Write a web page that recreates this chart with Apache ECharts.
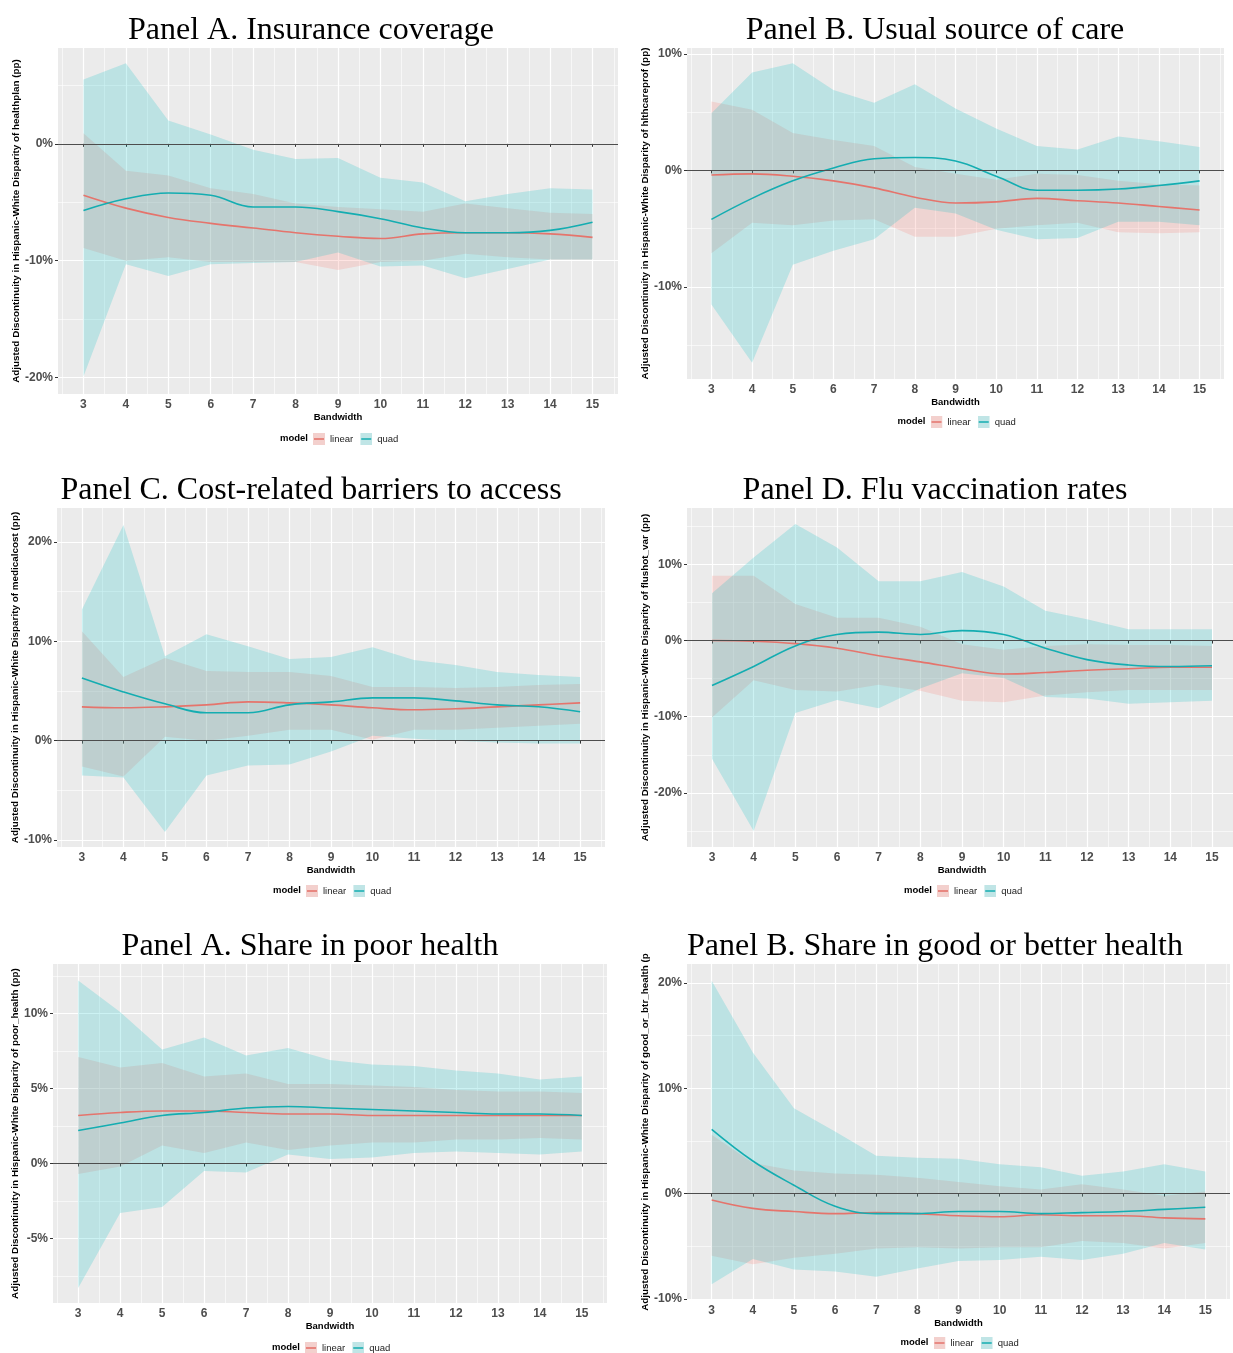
<!DOCTYPE html>
<html>
<head>
<meta charset="utf-8">
<script src="https://cdn.jsdelivr.net/npm/echarts@6.0.0/dist/echarts.min.js"></script>
<style>
html,body{margin:0;padding:0;background:#fff;}
#chart{width:1233px;height:1353px;}
</style>
</head>
<body>
<div id="chart"></div>
<script>
// bandwidths and axis breaks
var bandwidth = [3, 4, 5, 6, 7, 8, 9, 10, 11, 12, 13, 14, 15];
var xTicks = [3, 4, 5, 6, 7, 8, 9, 10, 11, 12, 13, 14, 15];
var xMinor = [2.5, 3.5, 4.5, 5.5, 6.5, 7.5, 8.5, 9.5, 10.5, 11.5, 12.5, 13.5, 14.5, 15.5];

// Panel A. Insurance coverage (healthplan)
var insLinHi = [0.9, -2.3, -2.7, -3.8, -4.3, -5.1, -5.4, -5.6, -5.8, -5.1, -5.5, -5.9, -6.0];
var insLinEst = [-4.4, -5.5, -6.3, -6.8, -7.2, -7.6, -7.9, -8.1, -7.7, -7.6, -7.6, -7.7, -8.0];
var insLinLo = [-8.9, -10.0, -9.7, -10.1, -10.1, -10.1, -10.8, -10.1, -10.0, -9.4, -9.7, -9.9, -9.9];
var insQuadHi = [5.5, 6.9, 2.0, 0.8, -0.5, -1.3, -1.2, -2.9, -3.3, -4.9, -4.3, -3.8, -3.9];
var insQuadEst = [-5.7, -4.7, -4.2, -4.4, -5.4, -5.4, -5.8, -6.4, -7.2, -7.6, -7.6, -7.4, -6.7];
var insQuadLo = [-19.9, -10.3, -11.3, -10.3, -10.2, -10.1, -9.3, -10.5, -10.4, -11.5, -10.7, -9.9, -9.9];
var insTicks = [-20, -10, 0];
var insMinor = [-15, -5, 5];

// Panel B. Usual source of care (hlthcareprof)
var usualLinHi = [5.9, 5.2, 3.2, 2.6, 2.1, 0.3, -0.3, -0.8, -0.3, -0.4, -0.9, -1.2, -1.3];
var usualLinEst = [-0.4, -0.3, -0.5, -0.9, -1.5, -2.3, -2.8, -2.7, -2.4, -2.6, -2.8, -3.1, -3.4];
var usualLinLo = [-7.1, -4.5, -4.7, -4.3, -4.2, -5.7, -5.7, -5.0, -4.7, -4.5, -5.3, -5.4, -5.3];
var usualQuadHi = [4.9, 8.4, 9.2, 6.9, 5.8, 7.4, 5.3, 3.6, 2.1, 1.8, 2.9, 2.5, 2.0];
var usualQuadEst = [-4.2, -2.4, -0.9, 0.2, 1.0, 1.1, 0.8, -0.5, -1.7, -1.7, -1.6, -1.3, -0.9];
var usualQuadLo = [-11.5, -16.5, -8.1, -6.9, -5.9, -3.2, -3.7, -5.1, -5.9, -5.8, -4.4, -4.4, -4.7];
var usualTicks = [-10, 0, 10];
var usualMinor = [-15, -5, 5];

// Panel C. Cost-related barriers to access (medicalcost)
var costLinHi = [11.0, 6.4, 8.3, 7.0, 6.9, 6.9, 6.5, 5.4, 5.4, 5.3, 5.4, 5.6, 5.7];
var costLinEst = [3.4, 3.3, 3.4, 3.6, 3.9, 3.8, 3.6, 3.3, 3.1, 3.2, 3.4, 3.6, 3.8];
var costLinLo = [-2.6, -3.6, 0.4, 0.0, 0.5, 1.1, 1.1, 0.1, 1.1, 1.1, 1.3, 1.5, 1.7];
var costQuadHi = [13.2, 21.7, 8.5, 10.7, 9.5, 8.2, 8.4, 9.4, 8.1, 7.6, 6.9, 6.6, 6.4];
var costQuadEst = [6.3, 4.9, 3.7, 2.8, 2.8, 3.6, 3.9, 4.3, 4.3, 4.0, 3.6, 3.4, 2.9];
var costQuadLo = [-3.5, -3.7, -9.2, -3.5, -2.5, -2.4, -1.1, 0.5, 0.2, 0.0, -0.2, -0.3, -0.3];
var costTicks = [-10, 0, 10, 20];
var costMinor = [-5, 5, 15];

// Panel D. Flu vaccination rates (flushot_var)
var fluLinHi = [8.5, 8.5, 4.8, 3.0, 3.0, 1.8, -0.5, -1.2, -0.7, -0.5, -0.6, -0.6, -0.7];
var fluLinEst = [0.0, -0.1, -0.4, -1.0, -2.0, -2.8, -3.7, -4.4, -4.2, -3.9, -3.7, -3.5, -3.5];
var fluLinLo = [-10.1, -5.2, -6.5, -6.7, -5.8, -6.6, -7.9, -8.1, -7.2, -6.8, -6.5, -6.5, -6.5];
var fluQuadHi = [6.2, 10.9, 15.3, 12.2, 7.8, 7.8, 9.0, 7.1, 3.9, 2.8, 1.5, 1.5, 1.5];
var fluQuadEst = [-5.9, -3.4, -0.7, 0.8, 1.1, 0.8, 1.3, 0.8, -1.0, -2.5, -3.2, -3.4, -3.3];
var fluQuadLo = [-15.5, -25.0, -9.5, -7.8, -8.9, -6.3, -4.3, -4.9, -7.4, -7.6, -8.3, -8.1, -7.9];
var fluTicks = [-20, -10, 0, 10];
var fluMinor = [-25, -15, -5, 5, 15];

// Panel A (2nd set). Share in poor health (poor_health)
var poorLinHi = [7.1, 6.4, 6.7, 5.8, 6.0, 5.3, 5.3, 5.2, 5.1, 4.9, 4.8, 4.8, 4.7];
var poorLinEst = [3.2, 3.4, 3.5, 3.5, 3.4, 3.3, 3.3, 3.2, 3.2, 3.2, 3.2, 3.2, 3.2];
var poorLinLo = [-0.7, -0.2, 1.2, 0.7, 1.4, 0.9, 1.2, 1.4, 1.4, 1.6, 1.6, 1.7, 1.6];
var poorQuadHi = [12.2, 10.1, 7.6, 8.4, 7.2, 7.7, 6.9, 6.6, 6.5, 6.2, 6.0, 5.6, 5.8];
var poorQuadEst = [2.2, 2.7, 3.2, 3.4, 3.7, 3.8, 3.7, 3.6, 3.5, 3.4, 3.3, 3.3, 3.2];
var poorQuadLo = [-8.3, -3.3, -2.9, -0.5, -0.6, 0.6, 0.3, 0.4, 0.7, 0.8, 0.7, 0.6, 0.8];
var poorTicks = [-5, 0, 5, 10];
var poorMinor = [-7.5, -2.5, 2.5, 7.5, 12.5];

// Panel B (2nd set). Share in good or better health (good_or_btr_health)
var goodLinHi = [5.6, 2.9, 2.2, 1.9, 1.8, 1.5, 1.1, 0.7, 0.4, 0.9, 0.4, -0.2, 0.2];
var goodLinEst = [-0.6, -1.4, -1.7, -1.9, -1.8, -1.9, -2.1, -2.2, -2.0, -2.1, -2.1, -2.3, -2.4];
var goodLinLo = [-5.9, -6.7, -6.1, -5.7, -5.2, -5.1, -5.2, -5.1, -5.1, -4.5, -4.7, -5.2, -4.7];
var goodQuadHi = [20.2, 13.4, 8.1, 5.9, 3.6, 3.4, 3.3, 2.8, 2.5, 1.7, 2.1, 2.8, 2.1];
var goodQuadEst = [6.1, 3.1, 0.8, -1.2, -1.9, -1.9, -1.7, -1.7, -1.9, -1.8, -1.7, -1.5, -1.3];
var goodQuadLo = [-8.6, -6.2, -7.2, -7.4, -7.9, -7.1, -6.4, -6.3, -6.0, -6.3, -5.7, -4.7, -5.3];
var goodTicks = [-10, 0, 10, 20];
var goodMinor = [-5, 5, 15];

var panels = [
    {title: 'Panel A. Insurance coverage', yName: 'Adjusted Discontinuity in Hispanic-White Disparity of healthplan (pp)',
        yMin: -21.4, yMax: 8.2, yTicks: insTicks, yMinor: insMinor,
        lin: [insLinLo, insLinEst, insLinHi], quad: [insQuadLo, insQuadEst, insQuadHi]},
    {title: 'Panel B. Usual source of care', yName: 'Adjusted Discontinuity in Hispanic-White Disparity of hlthcareprof (pp)',
        yMin: -17.9, yMax: 10.5, yTicks: usualTicks, yMinor: usualMinor,
        lin: [usualLinLo, usualLinEst, usualLinHi], quad: [usualQuadLo, usualQuadEst, usualQuadHi]},
    {title: 'Panel C. Cost-related barriers to access', yName: 'Adjusted Discontinuity in Hispanic-White Disparity of medicalcost (pp)',
        yMin: -10.7, yMax: 23.4, yTicks: costTicks, yMinor: costMinor,
        lin: [costLinLo, costLinEst, costLinHi], quad: [costQuadLo, costQuadEst, costQuadHi]},
    {title: 'Panel D. Flu vaccination rates', yName: 'Adjusted Discontinuity in Hispanic-White Disparity of flushot_var (pp)',
        yMin: -27.1, yMax: 17.4, yTicks: fluTicks, yMinor: fluMinor,
        lin: [fluLinLo, fluLinEst, fluLinHi], quad: [fluQuadLo, fluQuadEst, fluQuadHi]},
    {title: 'Panel A. Share in poor health', yName: 'Adjusted Discontinuity in Hispanic-White Disparity of poor_health (pp)',
        yMin: -9.3, yMax: 13.3, yTicks: poorTicks, yMinor: poorMinor,
        lin: [poorLinLo, poorLinEst, poorLinHi], quad: [poorQuadLo, poorQuadEst, poorQuadHi]},
    {title: 'Panel B. Share in good or better health', yName: 'Adjusted Discontinuity in Hispanic-White Disparity of good_or_btr_health (pp)',
        yMin: -10.1, yMax: 21.8, yTicks: goodTicks, yMinor: goodMinor,
        lin: [goodLinLo, goodLinEst, goodLinHi], quad: [goodQuadLo, goodQuadEst, goodQuadHi]}
];

// where each panel sits on the page
var layout = [
    {left: 58, top: 48, width: 560, height: 346, titleX: 311, titleY: 28, legendY: 439, nameGap: 35},
    {left: 687, top: 48, width: 537, height: 331, titleX: 935, titleY: 28, legendY: 422, nameGap: 30},
    {left: 57, top: 508, width: 548, height: 339, titleX: 311, titleY: 488, legendY: 891, nameGap: 33},
    {left: 687, top: 508, width: 550, height: 339, titleX: 935, titleY: 488, legendY: 891, nameGap: 33},
    {left: 53, top: 964, width: 554, height: 339, titleX: 310, titleY: 944, legendY: 1348, nameGap: 30},
    {left: 687, top: 964, width: 543, height: 336, titleX: 935, titleY: 944, legendY: 1343, nameGap: 33, nameMax: 360}
];

var FONT = '"Liberation Sans", Arial, sans-serif';
var LIN = '#F8766D', QUAD = '#00BFC4';
var LIN_LINE = '#E5746C', QUAD_LINE = '#14ADB1';

function keyIcon(fill, stroke) {
    var svg = '<svg xmlns="http://www.w3.org/2000/svg" width="12" height="12">' +
        '<rect width="12" height="12" fill="' + fill + '"/>' +
        '<line x1="1" y1="6" x2="11" y2="6" stroke="' + stroke + '" stroke-width="1.6"/></svg>';
    return 'image://data:image/svg+xml;charset=utf-8,' + encodeURIComponent(svg);
}
var linKey = keyIcon('#F3D0CD', LIN_LINE);
var quadKey = keyIcon('#C0E5E6', QUAD_LINE);

function bandRender(color) {
    return function (params, api) {
        if (params.dataIndex !== 0) return null;
        var n = bandwidth.length, pts = [], k;
        for (k = 0; k < n; k++) pts.push(api.coord([api.value(0, k), api.value(2, k)]));
        for (k = n - 1; k >= 0; k--) pts.push(api.coord([api.value(0, k), api.value(1, k)]));
        return {type: 'polygon', shape: {points: pts}, style: {fill: color, opacity: 0.2}};
    };
}

var option = {
    animation: false,
    backgroundColor: '#fff',
    title: [], grid: [], xAxis: [], yAxis: [], legend: [], series: []
};

panels.forEach(function (p, i) {
    var L = layout[i];
    var cx = L.left + L.width / 2;
    var labelStyle = {fontFamily: FONT, fontWeight: 'bold', fontSize: 12, color: '#4D4D4D'};
    option.grid.push({left: L.left, top: L.top, width: L.width, height: L.height, show: true,
        backgroundColor: '#EBEBEB', borderWidth: 0, containLabel: false, outerBoundsMode: 'none'});
    option.title.push({text: p.title, left: L.titleX, top: L.titleY - 13, textAlign: 'center', padding: 0,
        textStyle: {fontFamily: '"Liberation Serif", "Times New Roman", serif', fontSize: 32, fontWeight: 'normal', color: '#000'}});
    option.title.push({text: 'model', left: cx - 30, top: L.legendY - 6, textAlign: 'right', padding: 0,
        textStyle: {fontFamily: FONT, fontWeight: 'bold', fontSize: 9.5, color: '#000'}});
    option.legend.push({left: cx - 25, top: L.legendY - 6, orient: 'horizontal', padding: 0,
        itemWidth: 12, itemHeight: 12, itemGap: 7, selectedMode: false,
        textStyle: {fontFamily: FONT, fontSize: 9.5, color: '#222'},
        data: [{name: 'linear', icon: linKey}, {name: 'quad', icon: quadKey}]});

    // major + minor x axes
    option.xAxis.push({type: 'value', gridIndex: i, min: 2.4, max: 15.6, position: 'bottom',
        name: 'Bandwidth', nameLocation: 'middle', nameGap: 17,
        nameTextStyle: {fontFamily: FONT, fontWeight: 'bold', fontSize: 9.5, color: '#000'},
        axisLine: {show: false},
        axisTick: {show: true, length: 3, lineStyle: {color: '#333', width: 1}, customValues: xTicks},
        axisLabel: Object.assign({customValues: xTicks, margin: 5}, labelStyle),
        splitLine: {show: true, lineStyle: {color: '#fff', width: 1.2}}});
    option.xAxis.push({type: 'value', gridIndex: i, min: 2.4, max: 15.6, position: 'top',
        axisLine: {show: false}, axisTick: {show: false, customValues: xMinor},
        axisLabel: {show: false, customValues: xMinor},
        splitLine: {show: true, lineStyle: {color: '#fff', width: 0.6}}});

    var yName = {fontFamily: FONT, fontWeight: 'bold', fontSize: 9.9, color: '#000'};
    option.yAxis.push({type: 'value', gridIndex: i, min: p.yMin, max: p.yMax, position: 'left',
        name: p.yName, nameLocation: 'middle', nameRotate: 90, nameGap: L.nameGap, nameTextStyle: yName,
        nameTruncate: L.nameMax ? {maxWidth: L.nameMax, ellipsis: ''} : undefined,
        axisLine: {show: false},
        axisTick: {show: true, length: 3, lineStyle: {color: '#333', width: 1}, customValues: p.yTicks},
        axisLabel: Object.assign({customValues: p.yTicks, margin: 5, formatter: function (v) { return v + '%'; }}, labelStyle),
        splitLine: {show: true, lineStyle: {color: '#fff', width: 1.2}}});
    option.yAxis.push({type: 'value', gridIndex: i, min: p.yMin, max: p.yMax, position: 'right',
        axisLine: {show: false}, axisTick: {show: false, customValues: p.yMinor},
        axisLabel: {show: false, customValues: p.yMinor},
        splitLine: {show: true, lineStyle: {color: '#fff', width: 0.6}}});

    var xi = i * 2, yi = i * 2;
    [[p.lin, LIN], [p.quad, QUAD]].forEach(function (m) {
        var lo = m[0][0], hi = m[0][2];
        option.series.push({type: 'custom', xAxisIndex: xi, yAxisIndex: yi, silent: true, z: 1,
            data: bandwidth.map(function (x, k) { return [x, lo[k], hi[k]]; }),
            encode: {x: 0, y: [1, 2]},
            renderItem: bandRender(m[1])});
    });
    option.series.push({type: 'line', name: 'linear', xAxisIndex: xi, yAxisIndex: yi, z: 3, silent: true,
        data: bandwidth.map(function (x, k) { return [x, p.lin[1][k]]; }),
        smooth: 0.4, symbol: 'none', lineStyle: {color: LIN_LINE, width: 1.6}, itemStyle: {color: LIN_LINE},
        markLine: {silent: true, symbol: 'none', label: {show: false}, animation: false,
            lineStyle: {color: '#4D4D4D', width: 1.2, type: 'solid'}, data: [{yAxis: 0}]}});
    option.series.push({type: 'line', name: 'quad', xAxisIndex: xi, yAxisIndex: yi, z: 3, silent: true,
        data: bandwidth.map(function (x, k) { return [x, p.quad[1][k]]; }),
        smooth: 0.4, symbol: 'none', lineStyle: {color: QUAD_LINE, width: 1.6}, itemStyle: {color: QUAD_LINE}});
});

var chart = echarts.init(document.getElementById('chart'));
chart.setOption(option);
</script>
</body>
</html>
